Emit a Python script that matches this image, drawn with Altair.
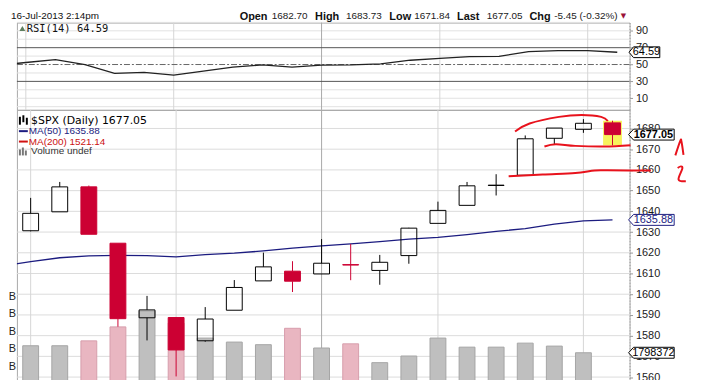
import altair as alt
import pandas as pd

# ---------------- data ----------------
DATES = ["17-Jun", "18-Jun", "19-Jun", "20-Jun", "21-Jun", "24-Jun", "25-Jun", "26-Jun", "27-Jun",
         "28-Jun", "1-Jul", "2-Jul", "3-Jul", "5-Jul", "8-Jul", "9-Jul", "10-Jul", "11-Jul",
         "12-Jul", "15-Jul", "16-Jul"]
OPEN = [1630.64, 1639.77, 1651.83, 1624.62, 1588.62, 1588.77, 1577.52, 1592.27, 1606.44, 1611.12,
        1609.78, 1614.29, 1611.48, 1618.65, 1634.20, 1642.89, 1652.50, 1657.41, 1675.26, 1679.59, 1682.70]
HIGH = [1646.50, 1654.19, 1652.45, 1624.62, 1599.19, 1588.77, 1593.79, 1606.83, 1620.07, 1615.94,
        1626.61, 1624.26, 1618.97, 1632.07, 1644.68, 1654.18, 1657.92, 1676.63, 1680.19, 1684.51, 1683.73]
LOW = [1630.34, 1639.77, 1628.91, 1584.32, 1577.70, 1560.33, 1577.09, 1592.27, 1606.44, 1601.06,
       1609.78, 1606.77, 1604.57, 1614.71, 1634.20, 1642.89, 1647.66, 1657.41, 1672.33, 1677.89, 1671.84]
CLOSE = [1639.04, 1651.81, 1628.93, 1588.19, 1592.43, 1573.09, 1588.03, 1603.26, 1613.20, 1606.28,
         1614.96, 1614.08, 1615.41, 1631.89, 1640.46, 1652.32, 1652.62, 1675.02, 1680.19, 1682.50, 1677.05]
PREV_CLOSE = 1626.73
VOLUME_K = [2200000, 2200000, 2480000, 3280000, 4190000, 3500000, 2640000, 2410000, 2260000, 3200000,
            2070000, 2310000, 1230000, 1610000, 2640000, 2120000, 2120000, 2350000, 2180000, 1798372, None]
# MA(50) and RSI(14): first value belongs to the session before the first candle
MA50 = [1613.7, 1615.7, 1617.6, 1618.5, 1618.7, 1618.6, 1618.0, 1619.1, 1619.8, 1620.9, 1622.2,
        1623.3, 1624.3, 1625.4, 1626.6, 1627.4, 1628.8, 1630.3, 1631.7, 1633.8, 1635.4, 1635.88]
RSI14 = [48.9, 52.4, 55.9, 50.0, 39.4, 40.6, 37.4, 42.1, 46.8, 49.6, 46.8, 49.4, 49.6, 50.7, 55.1,
         57.4, 59.4, 59.8, 65.3, 66.5, 66.5, 64.59]
MA200_LAST = "1521.14"
WEEK_STARTS = [0, 5, 10, 14, 19]
MONTH_START = 10
STAMP = "16-Jul-2013 2:14pm"
QUOTE_LABELS = ["Open", "High", "Low", "Last", "Chg"]
QUOTE_VALUES = ["1682.70", "1683.73", "1671.84", "1677.05", "-5.45 (-0.32%)"]
PRICE_TICKS = [1560, 1570, 1580, 1590, 1600, 1610, 1620, 1630, 1640, 1650, 1660, 1670, 1680]
RSI_TICKS = [10, 30, 50, 70, 90]
RSI_GRID = [0, 10, 20, 40, 60, 80, 90, 100]
VOL_TICKS_K = [1000000, 2000000, 3000000, 4000000, 5000000]

# hand-drawn red annotations (candle index, price)
ANN_G = ["arc"] * 6 + ["l1"] * 5 + ["l2"] * 6 + ["one"] * 4 + ["two"] * 5
ANN_I = [16.65, 17.15, 18.16, 18.94, 19.61, 19.84,
         17.66, 18.05, 18.72, 19.72, 20.62,
         16.43, 17.6, 18.72, 19.39, 19.84, 21.32,
         22.16, 22.33, 22.37, 22.44,
         22.24, 22.35, 22.40, 22.27, 22.52]
ANN_P = [1678.5, 1682.4, 1685.6, 1686.5, 1685.6, 1683.6,
         1671.3, 1672.4, 1671.6, 1671.3, 1671.9,
         1656.9, 1657.8, 1658.5, 1659.7, 1659.8, 1659.7,
         1667.0, 1674.0, 1673.7, 1667.3,
         1660.9, 1661.7, 1660.6, 1655.4, 1654.5]

# ---------------- layout ----------------
PLOT_LEFT = 16          # page x of the plot's left border (approx.)
W = 634 - PLOT_LEFT
H1 = 88                 # RSI panel
H2 = 292                # price panel (runs past the window bottom)
RSI_TOP = 108 - H1
XMIN = (PLOT_LEFT - 25) / 29.83
XMAX = (634 - 25) / 29.83
PMAX = 1600 + (294 - 108) / 2.09
PMIN = 1600 - (400 - 294) / 2.09
VMAX = (384.7 - 108) / 17.6 * 1e6
VMIN = -(400 - 384.7) / 17.6 * 1e6
RMAX = 50 + (62.3 - RSI_TOP) / 0.85
RMIN = 50 - (108 - 62.3) / 0.85

RED = "#cc0033"
NAVY = "#1c1c80"
GRID = "#dcdcdc"
SANS = "Liberation Sans"

n = len(DATES)
df = pd.DataFrame({"i": list(range(n)), "date": DATES, "open": OPEN, "high": HIGH,
                   "low": LOW, "close": CLOSE})
prev = [PREV_CLOSE] + CLOSE[:-1]
df["down"] = [c < p for c, p in zip(CLOSE, prev)]
df["hollow"] = df["close"] >= df["open"]
df["top"] = df[["open", "close"]].max(axis=1)
df["bot"] = df[["open", "close"]].min(axis=1)
df["vol"] = VOLUME_K
df["v0"] = 0
vol_df = df.dropna(subset=["vol"])

ma_df = pd.DataFrame({"i": list(range(-1, n)), "ma": MA50})
rsi_df = pd.DataFrame({"i": list(range(-1, n)), "rsi": RSI14})
ann_df = pd.DataFrame({"g": ANN_G, "i": ANN_I, "p": ANN_P, "k": list(range(len(ANN_G)))})

xs = alt.Scale(domain=[XMIN, XMAX], nice=False, zero=False)
ps = alt.Scale(domain=[PMIN, PMAX], nice=False, zero=False)
vs = alt.Scale(domain=[VMIN, VMAX], nice=False, zero=False)
rs = alt.Scale(domain=[RMIN, RMAX], nice=False, zero=False)


def X(field="i"):
    return alt.X(f"{field}:Q", scale=xs, axis=None)


def one(text=""):
    return pd.DataFrame({"t": [text]})


def label(text, x, y, size=11, font=SANS, weight="normal", color="#000", align="left",
          baseline="middle"):
    return alt.Chart(one(text)).mark_text(
        align=align, baseline=baseline, fontSize=size, font=font, fontWeight=weight, color=color
    ).encode(text="t:N", x=alt.value(x), y=alt.value(y))


def seg(x1, x2, y1, y2, color, width=1.0):
    return alt.Chart(one()).mark_rule(color=color, strokeWidth=width).encode(
        x=alt.value(x1), x2=alt.value(x2), y=alt.value(y1), y2=alt.value(y2))


BOX46 = "M -1 0 L -0.78 -0.24 L 1 -0.24 L 1 0.24 L -0.78 0.24 Z"
BOX31 = "M -1 0 L -0.71 -0.35 L 1 -0.35 L 1 0.35 L -0.71 0.35 Z"

vgrid_color = alt.condition(f"datum.i == {MONTH_START}", alt.value("#a9a9a9"), alt.value("#d6d6d6"))
down_col = alt.condition("datum.down", alt.value(RED), alt.value("#000000"))

# ---------------- RSI panel ----------------
r_grid = alt.Chart(pd.DataFrame({"r": RSI_GRID})).mark_rule(color="#e2e2e2").encode(
    y=alt.Y("r:Q", scale=rs, axis=None))
r_axis = alt.Chart(pd.DataFrame({"r": [30, 70]})).mark_rule(color="#555555").encode(
    y=alt.Y("r:Q", scale=rs, axis=alt.Axis(orient="right", values=RSI_TICKS, title=None,
                                            grid=False, format="d")))
r_mid = alt.Chart(pd.DataFrame({"r": [50]})).mark_rule(color="#666666", strokeDash=[6, 2, 2, 2]).encode(
    y=alt.Y("r:Q", scale=rs, axis=None))
r_vgrid = alt.Chart(pd.DataFrame({"i": WEEK_STARTS})).mark_rule().encode(x=X(), color=vgrid_color)
r_line = alt.Chart(rsi_df).mark_line(color="#222222", strokeWidth=1.3, clip=True).encode(
    x=X(), y=alt.Y("rsi:Q", scale=rs, axis=None))
r_tag_df = pd.DataFrame({"v": [RSI14[-1]], "t": [f"{RSI14[-1]:.2f}"]})
r_box = alt.Chart(r_tag_df).mark_point(
    shape=BOX31, size=961, filled=True, fill="white", stroke="#000", strokeWidth=1, opacity=1
).encode(x=alt.value(W + 15), y=alt.Y("v:Q", scale=rs, axis=None))
r_box_t = alt.Chart(r_tag_df).mark_text(
    align="center", baseline="middle", fontSize=11, font=SANS, color="#000"
).encode(text="t:N", x=alt.value(W + 17), y=alt.Y("v:Q", scale=rs, axis=None))
r_icon = alt.Chart(one()).mark_point(shape="triangle-up", filled=True, color="#5f7f5f", size=35,
                                      opacity=1).encode(x=alt.value(5.5), y=alt.value(6))
r_leg = label(f"RSI(14) {RSI14[-1]:.2f}", 10, 6, size=10.5, font="DejaVu Sans Mono", color="#111")

HY = -12
header = [label(STAMP, 10 - PLOT_LEFT, HY, size=10, baseline="top", color="#111")]
q_lab_x = [240.7, 316.7, 391.7, 460, 533]
q_val_x = [273, 348, 416.7, 490, 558]
for lab, val, lx, vx in zip(QUOTE_LABELS, QUOTE_VALUES, q_lab_x, q_val_x):
    header.append(label(lab, lx - PLOT_LEFT, HY, weight="bold", baseline="top", color="#111"))
    header.append(label(val, vx - PLOT_LEFT, HY + 0.5, size=10, baseline="top", color="#222"))
header.append(label("\u25bc", 625 - PLOT_LEFT, HY + 1.5, size=7, font="DejaVu Sans", baseline="top",
                    color="#99123a"))

rsi_panel = alt.layer(r_grid, r_vgrid, r_axis, r_mid, r_line, r_box, r_box_t, r_icon, r_leg,
                      *header).resolve_scale(y="independent").properties(width=W, height=H1)

# ---------------- price panel ----------------
p_grid = alt.Chart(pd.DataFrame({"p": PRICE_TICKS})).mark_rule(color=GRID).encode(
    y=alt.Y("p:Q", scale=ps, axis=alt.Axis(orient="right", values=PRICE_TICKS, title=None,
                                            grid=False, format="d")))
p_vgrid = alt.Chart(pd.DataFrame({"i": WEEK_STARTS})).mark_rule().encode(x=X(), color=vgrid_color)
vol_bars = alt.Chart(vol_df).mark_bar(size=16, strokeWidth=1).encode(
    x=X(), y=alt.Y("vol:Q", scale=vs, axis=None), y2="v0:Q",
    fill=alt.condition("datum.down", alt.value("#e9b6c1"), alt.value("#bfbfbf")),
    stroke=alt.condition("datum.down", alt.value("#d79eac"), alt.value("#a5a5a5")))
hilite = alt.Chart(df.tail(1)).mark_bar(size=19, color="#f7f25c").encode(
    x=X(), y=alt.Y("high:Q", scale=ps, axis=None), y2="low:Q")
ma_line = alt.Chart(ma_df).mark_line(color=NAVY, strokeWidth=1.3, clip=True).encode(
    x=X(), y=alt.Y("ma:Q", scale=ps, axis=None))
wick_up = alt.Chart(df).mark_rule(strokeWidth=1).encode(
    x=X(), y=alt.Y("high:Q", scale=ps, axis=None), y2="top:Q", color=down_col)
wick_dn = alt.Chart(df).mark_rule(strokeWidth=1).encode(
    x=X(), y=alt.Y("bot:Q", scale=ps, axis=None), y2="low:Q", color=down_col)
bodies = alt.Chart(df).mark_bar(size=16, strokeWidth=1).encode(
    x=X(), y=alt.Y("open:Q", scale=ps, axis=None), y2="close:Q",
    fill=down_col, stroke=down_col,
    fillOpacity=alt.condition("datum.hollow", alt.value(0), alt.value(1)))
ann = alt.Chart(ann_df).mark_line(color="#e8121c", strokeWidth=2, interpolate="cardinal").encode(
    x=X(), y=alt.Y("p:Q", scale=ps, axis=None), detail="g:N", order="k:Q")


def tag(value, text, scale, color, weight="normal"):
    base = alt.Chart(pd.DataFrame({"v": [value], "t": [text]}))
    b = base.mark_point(shape=BOX46, size=2116, filled=True, fill="white", stroke=color,
                        strokeWidth=1, opacity=1).encode(
        x=alt.value(W + 22), y=alt.Y("v:Q", scale=scale, axis=None))
    t = base.mark_text(align="center", baseline="middle", fontSize=11, font=SANS,
                       fontWeight=weight, color=color).encode(
        text="t:N", x=alt.value(W + 24), y=alt.Y("v:Q", scale=scale, axis=None))
    return [b, t]


tags = (tag(CLOSE[-1], f"{CLOSE[-1]:.2f}", ps, "#000", "bold")
        + tag(MA50[-1], f"{MA50[-1]:.2f}", ps, NAVY)
        + tag(VOLUME_K[-2], f"{VOLUME_K[-2]}", vs, "#000"))

b_labels = alt.Chart(pd.DataFrame({"v": VOL_TICKS_K})).mark_text(
    align="right", baseline="middle", fontSize=11, font=SANS, color="#222").encode(
    x=alt.value(-1), y=alt.Y("v:Q", scale=vs, axis=None), text=alt.value("B"))

legend = [
    seg(3, 3, 7, 15, "#000", 2), seg(6.5, 6.5, 5.5, 12.5, "#000", 2), seg(10, 10, 8, 15, "#000", 2),
    label(f"$SPX (Daily) {CLOSE[-1]:.2f}", 14.3, 11.3, size=11, font="DejaVu Sans", color="#000"),
    seg(2, 11, 21.5, 21.5, NAVY, 2),
    label(f"MA(50) {MA50[-1]:.2f}", 12, 21.5, size=10, color=NAVY),
    seg(2, 11, 32, 32, "#d01010", 2),
    label(f"MA(200) {MA200_LAST}", 12, 32, size=10, color="#cc1111"),
    seg(3, 3, 40, 46, "#777", 2), seg(6, 6, 38, 46, "#777", 2), seg(9, 9, 41, 46, "#777", 2),
    label("Volume undef", 14.3, 42, size=10, color="#333"),
]

price_panel = alt.layer(p_grid, p_vgrid, vol_bars, hilite, ma_line, wick_up, wick_dn, bodies, ann,
                        *tags, b_labels, *legend).resolve_scale(y="independent").properties(
    width=W, height=H2)

chart = alt.vconcat(rsi_panel, price_panel, spacing=0, bounds="flush").properties(
    padding={"left": 0, "top": 0, "right": 2, "bottom": 0}
).configure_view(stroke="#a9a9a9", strokeWidth=1).configure_axis(
    labelFont=SANS, labelFontSize=11, labelColor="#1a1a1a", domainColor="#999999",
    domainDash=[1, 2], tickColor="#999999", tickSize=3, labelPadding=3, labelOverlap=False)

chart.save("out.html", embed_options={"renderer": "svg", "actions": False})
